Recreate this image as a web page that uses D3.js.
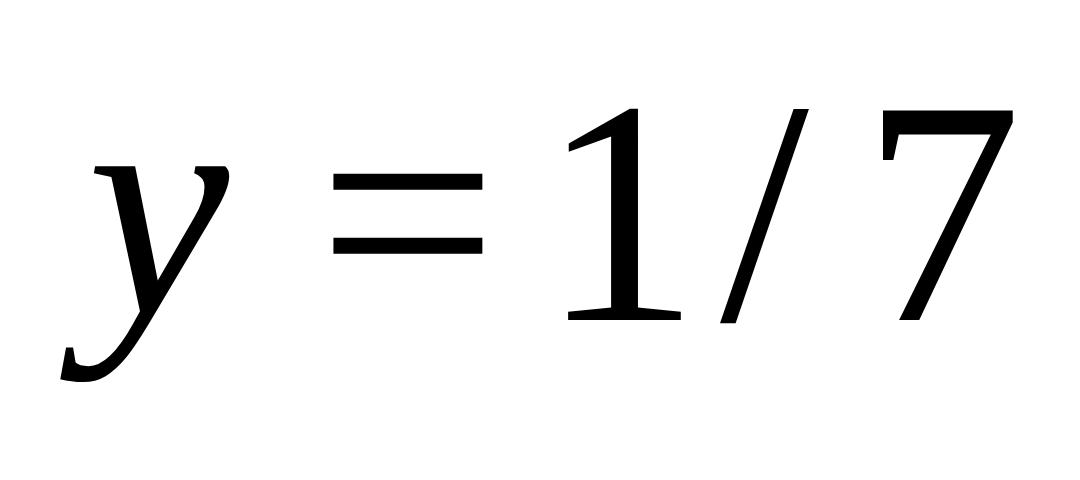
<!DOCTYPE html>
<html>
<head>
<meta charset="utf-8">
<script src="https://cdn.jsdelivr.net/npm/d3@7"></script>
<style>
  html, body { margin: 0; padding: 0; background: #fff; }
</style>
</head>
<body>
<svg id="chart"></svg>
<script>
// the expression y = 1/7
var lhs = ["y", "="];
var fraction = ["1", "/", "7"];

var width = 1080, height = 480;

var svg = d3.select("#chart")
    .attr("width", width)
    .attr("height", height);

// gaps between glyphs
var lhsShift = [0, 68];
var lhsDrop = [0, 7];
var fractionShift = [0, 20, 53];

// left side, italic y with the equals sign
svg.append("text")
    .attr("x", 87)
    .attr("y", 313)
    .attr("dx", lhsShift.join(" "))
    .attr("dy", lhsDrop.join(" "))
    .style("font-family", "'Liberation Serif'")
    .style("font-size", "320px")
    .style("font-style", "italic")
    .style("fill", "#000")
    .text(lhs.join(""));

// right side, the fraction
svg.append("text")
    .attr("x", 540)
    .attr("y", 320)
    .attr("dx", fractionShift.join(" "))
    .style("font-family", "'Liberation Serif'")
    .style("font-size", "320px")
    .style("fill", "#000")
    .text(fraction.join(""));
</script>
</body>
</html>
